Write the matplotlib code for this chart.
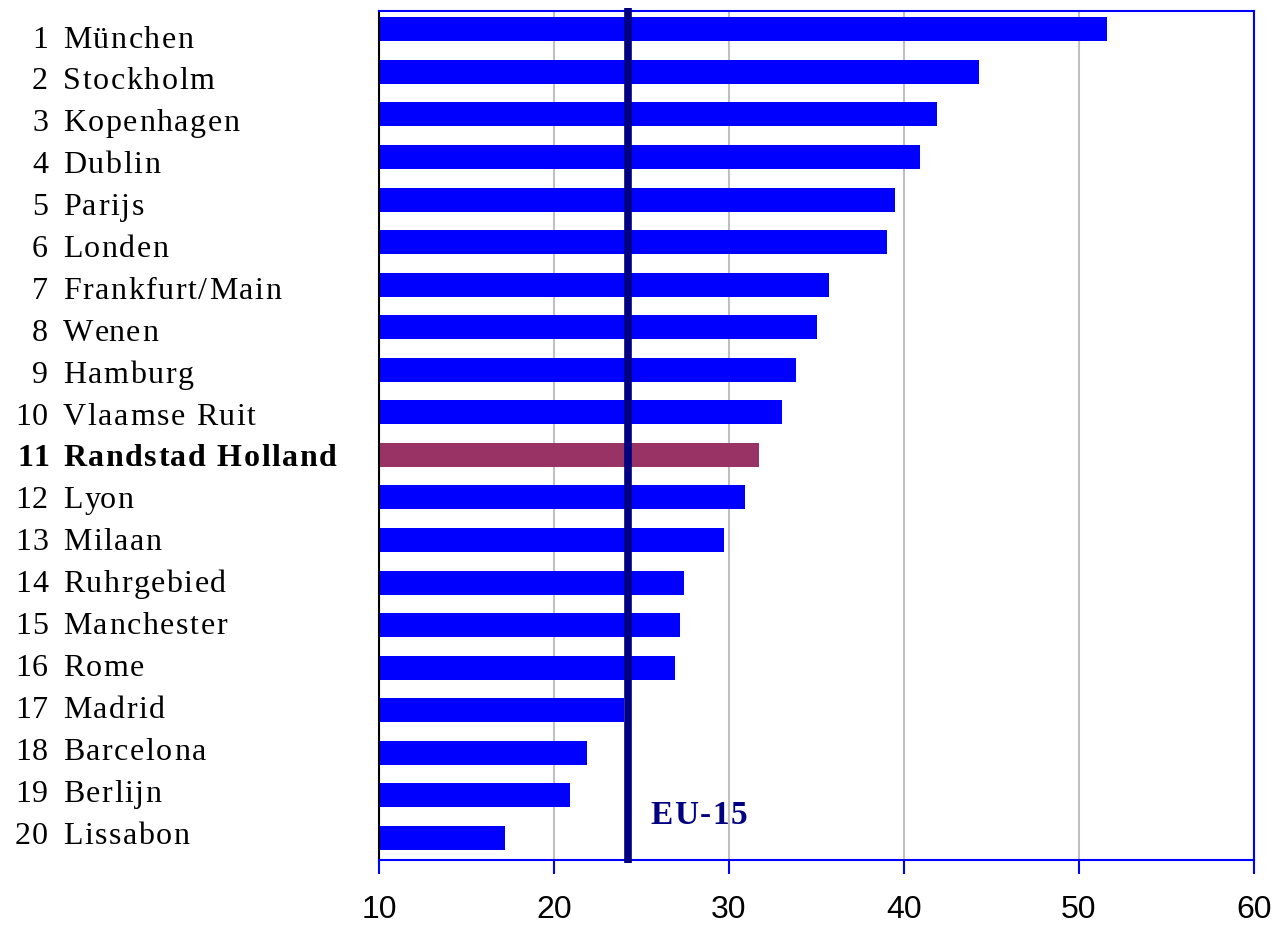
import matplotlib.pyplot as plt
from matplotlib.font_manager import FontProperties

# Ranking of 20 European regions
ranks = list(range(1, 21))
regions = [
    "München", "Stockholm", "Kopenhagen", "Dublin", "Parijs", "Londen",
    "Frankfurt/Main", "Wenen", "Hamburg", "Vlaamse Ruit", "Randstad Holland",
    "Lyon", "Milaan", "Ruhrgebied", "Manchester", "Rome", "Madrid",
    "Barcelona", "Berlijn", "Lissabon",
]
values = [51.6, 44.3, 41.9, 40.9, 39.5, 39.0, 35.7, 35.0, 33.8, 33.0,
          31.7, 30.9, 29.7, 27.4, 27.2, 26.9, 24.0, 21.9, 20.9, 17.2]
highlight = "Randstad Holland"
eu15 = 24.2
xticks = [10, 20, 30, 40, 50, 60]

BLUE = "#0000FF"
HILITE = "#993366"
NAVY = "#000080"
W, H = 1278, 927

fig = plt.figure(figsize=(W / 100, H / 100), dpi=100)
ax = fig.add_axes([379 / W, 1 - 860 / H, 875 / W, 849 / H])
renderer = fig.canvas.get_renderer()


def text_width(s, prop):
    # width in pixels, measured with a trailing marker so spaces count
    w1, _, _ = renderer.get_text_width_height_descent(s + "x", prop, ismath=False)
    w2, _, _ = renderer.get_text_width_height_descent("x", prop, ismath=False)
    return w1 - w2


def spaced_text(x_px, y_px, s, prop, spacing, align="left", **kw):
    # draw text with extra letter spacing (pixels), y_px is the baseline
    total = text_width(s, prop) + spacing * (len(s) - 1)
    x0 = x_px if align == "left" else x_px - total
    for k, ch in enumerate(s):
        dx = text_width(s[:k], prop) + spacing * k
        fig.text((x0 + dx) / W, 1 - y_px / H, ch, fontproperties=prop,
                 ha="left", va="baseline", **kw)


colors = [HILITE if r == highlight else BLUE for r in regions]
ax.barh(range(len(regions)), [v - 10 for v in values], left=10,
        height=0.565, color=colors, zorder=2)

ax.set_xlim(10, 60)
ax.set_ylim(19.52, -0.43)

# gridlines
ax.set_xticks(xticks)
ax.xaxis.grid(True, color="#C0C0C0", linewidth=1.5, zorder=0)
ax.set_axisbelow(True)
ax.set_yticks([])

# spines
for side in ["top", "right", "bottom"]:
    ax.spines[side].set_color(BLUE)
    ax.spines[side].set_linewidth(1.5)
ax.spines["left"].set_color("black")
ax.spines["left"].set_linewidth(1.5)

ax.tick_params(axis="x", colors=BLUE, length=10, width=1.5, pad=15,
               labelcolor="black", labelsize=23)
for lbl in ax.get_xticklabels():
    lbl.set_fontfamily(["Liberation Sans Narrow", "Liberation Sans", "DejaVu Sans"])

# EU-15 average line
line = ax.axvline(eu15, ymin=-0.0035, ymax=1.0035, color=NAVY, linewidth=5.5,
                  clip_on=False, zorder=3)
line.set_solid_capstyle("butt")

eu_prop = FontProperties(family="Liberation Serif", weight="bold", size=24)
eu_x = 379 + (eu15 - 10) * 17.5 + 23
spaced_text(eu_x, 824, "EU-15", eu_prop, 1.5, color=NAVY)

# category labels: rank right-aligned, name left-aligned
# baselines in pixels, row pitch of the labels is a bit tighter than the bars
base0, pitch = 47.5, (833.0 - 37.0) / 19
for i, (rk, name) in enumerate(zip(ranks, regions)):
    weight = "bold" if name == highlight else "normal"
    prop = FontProperties(family="Liberation Serif", weight=weight, size=23)
    yb = base0 + i * pitch
    spaced_text(48, yb, str(rk), prop, 1.0, align="right")
    spaced_text(63, yb, name, prop, 1.6)

fig.savefig("out.png", dpi=100)
